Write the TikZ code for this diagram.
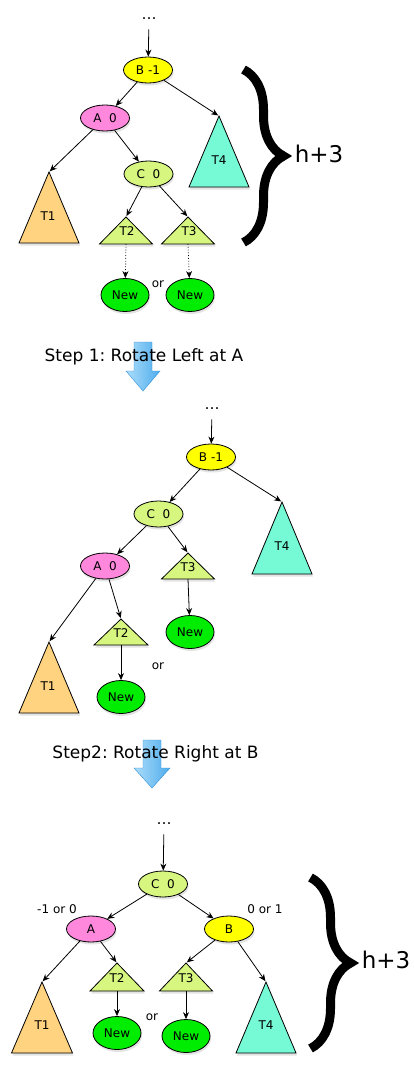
\documentclass[tikz,border=0pt]{standalone}
\usepackage{fontspec}
\setmainfont{DejaVu Sans}
\usetikzlibrary{shapes.geometric,arrows.meta,decorations.pathreplacing,shadows}
\definecolor{avlyellow}{RGB}{255,255,0}
\definecolor{avlpink}{RGB}{255,136,221}
\definecolor{avlgreen}{RGB}{214,246,128}
\definecolor{suborange}{RGB}{255,211,128}
\definecolor{subaqua}{RGB}{118,250,214}
\definecolor{newgreen}{RGB}{0,236,0}
\definecolor{arrowlight}{RGB}{172,221,250}
\definecolor{arrowdark}{RGB}{78,172,236}
\definecolor{arrowedge}{RGB}{52,146,218}
\frenchspacing

\begin{document}
\begin{tikzpicture}[x=1pt, y=-1pt, thick, >={Stealth[length=7pt,width=6pt]},
  font=\fontsize{12}{14}\selectfont,
  softshadow/.style={drop shadow={opacity=.22, shadow xshift=1pt, shadow yshift=-2.5pt}},
  avl/.style={ellipse, draw, minimum width=49pt, minimum height=26pt, inner sep=0pt, softshadow},
  leaf/.style={avl, fill=newgreen, minimum width=48pt, minimum height=33pt},
  sub/.style={draw, softshadow},
  dots/.style={font=\fontsize{15}{17}\selectfont, inner xsep=0pt, inner ysep=9pt},
  steptext/.style={font=\fontsize{17}{20}\selectfont},
  height/.style={font=\fontsize{23}{27}\selectfont},
  bigbrace/.style={decorate, decoration={brace, amplitude=40pt}, line width=9pt},
  bluearrow/.style={left color=arrowlight, right color=arrowdark, draw=arrowedge, thin}]

\useasboundingbox (0,0) rectangle (413,1070);

% Albero Iniziale
\node [dots] (dots1) at (149,19) {…};
\node [avl, fill=avlyellow] (b1) at (148,70) {B -1};
\node [avl, fill=avlpink] (a1) at (105,118) {A~~0};
\node [avl, fill=avlgreen] (c1) at (148.5,174) {C~~0};
\coordinate (t4) at (219,116);
\draw [sub, fill=subaqua] (t4) -- (249,187) -- (189,187) -- cycle;
\node (t4l) at (219,160) {T4};
\coordinate (t1) at (49,172);
\draw [sub, fill=suborange] (t1) -- (79,243) -- (19,243) -- cycle;
\node (t1l) at (48,216) {T1};
\coordinate (t2) at (126,217);
\coordinate (t2b) at (126,244);
\draw [sub, fill=avlgreen] (t2) -- (152.5,244) -- (99.5,244) -- cycle;
\node (t2l) at (127,231) {T2};
\coordinate (t3) at (188,217);
\coordinate (t3b) at (188,244);
\draw [sub, fill=avlgreen] (t3) -- (214.5,244) -- (161.5,244) -- cycle;
\node (t3l) at (189,231) {T3};
\node [leaf] (n1a) at (125,295) {New};
\node [leaf] (n1b) at (190,295) {New};
\node (or1) at (158,284) {or};
\draw [->] (dots1) -- (b1);
\draw [->] (b1) -- (a1);
\draw [->, shorten >=1pt] (b1) -- (t4);
\draw [->, shorten >=1pt] (a1) -- (t1);
\draw [->] (a1) -- (c1);
\draw [->, shorten >=1pt] (c1) -- (t2);
\draw [->, shorten >=1pt] (c1) -- (t3);
\draw [->, dotted] (t2b) -- (n1a);
\draw [->, dotted] (t3b) -- (n1b);
\draw [bigbrace] (243.5,69.5) -- (243.5,242.5);
\node [height] (h1) at (319,154) {h+3};

% Passo 1
\shadedraw [bluearrow] (134,342) -- (152,342) -- (152,371) -- (160,371) -- (143,391) -- (126,371) -- (134,371) -- cycle;
\node [steptext] (step1) at (144,357) {Step 1: Rotate Left at A};

% Dopo La Rotazione A Sinistra
\node [dots] (dots2) at (212,409) {…};
\node [avl, fill=avlyellow] (b2) at (211,457) {B -1};
\node [avl, fill=avlgreen] (c2) at (158.5,514) {C~~0};
\node [avl, fill=avlpink] (a2) at (105,566) {A~~0};
\coordinate (s4) at (282,502);
\draw [sub, fill=subaqua] (s4) -- (312,574) -- (252,574) -- cycle;
\node (s4l) at (282,546) {T4};
\coordinate (s3) at (188,553);
\coordinate (s3b) at (188,579);
\draw [sub, fill=avlgreen] (s3) -- (214.5,579) -- (161.5,579) -- cycle;
\node (s3l) at (188,567) {T3};
\coordinate (s2) at (121,619);
\coordinate (s2b) at (121,645);
\draw [sub, fill=avlgreen] (s2) -- (148,645) -- (94,645) -- cycle;
\node (s2l) at (121,633) {T2};
\coordinate (s1) at (49,642);
\draw [sub, fill=suborange] (s1) -- (79,713) -- (19,713) -- cycle;
\node (s1l) at (48,686) {T1};
\node [leaf] (n2b) at (190,632) {New};
\node [leaf] (n2a) at (121,697) {New};
\node (or2) at (158,666) {or};
\draw [->] (dots2) -- (b2);
\draw [->] (b2) -- (c2);
\draw [->, shorten >=1pt] (b2) -- (s4);
\draw [->] (c2) -- (a2);
\draw [->, shorten >=1pt] (c2) -- (s3);
\draw [->, shorten >=1pt] (a2) -- (s1);
\draw [->, shorten >=1pt] (a2) -- (s2);
\draw [->] (s3b) -- (n2b);
\draw [->] (s2b) -- (n2a);

% Passo 2
\shadedraw [bluearrow] (143,740) -- (161,740) -- (161,768) -- (170,768) -- (152,788) -- (134,768) -- (143,768) -- cycle;
\node [steptext] (step2) at (155.5,754) {Step2: Rotate Right at B};

% Albero Finale
\node [dots] (dots3) at (164,824) {…};
\node [avl, fill=avlgreen] (c3) at (163,884) {C~~0};
\node [avl, fill=avlpink] (a3) at (91,929) {A};
\node [avl, fill=avlyellow] (b3) at (229,929) {B};
\node (bal3a) at (57,909) {-1 or 0};
\node (bal3b) at (265,909) {0 or 1};
\coordinate (u1) at (42,982);
\draw [sub, fill=suborange] (u1) -- (72.5,1053) -- (11.5,1053) -- cycle;
\node (u1l) at (42,1025) {T1};
\coordinate (u2) at (117,963);
\coordinate (u2b) at (117,991);
\draw [sub, fill=avlgreen] (u2) -- (144,991) -- (90,991) -- cycle;
\node (u2l) at (117,978) {T2};
\coordinate (u3) at (186,963);
\coordinate (u3b) at (186,991);
\draw [sub, fill=avlgreen] (u3) -- (212.5,991) -- (159.5,991) -- cycle;
\node (u3l) at (186,978) {T3};
\coordinate (u4) at (266,982);
\draw [sub, fill=subaqua] (u4) -- (296,1053) -- (236,1053) -- cycle;
\node (u4l) at (266,1025) {T4};
\node [leaf] (n3a) at (117,1033) {New};
\node [leaf] (n3b) at (186,1036) {New};
\node (or3) at (152,1017) {or};
\draw [->] (dots3) -- (c3);
\draw [->] (c3) -- (a3);
\draw [->] (c3) -- (b3);
\draw [->, shorten >=1pt] (a3) -- (u1);
\draw [->, shorten >=1pt] (a3) -- (u2);
\draw [->, shorten >=1pt] (b3) -- (u3);
\draw [->, shorten >=1pt] (b3) -- (u4);
\draw [->] (u2b) -- (n3a);
\draw [->] (u3b) -- (n3b);
\draw [bigbrace] (310.5,877.5) -- (310.5,1048.5);
\node [height] (h3) at (386,960) {h+3};

\end{tikzpicture}
\end{document}
